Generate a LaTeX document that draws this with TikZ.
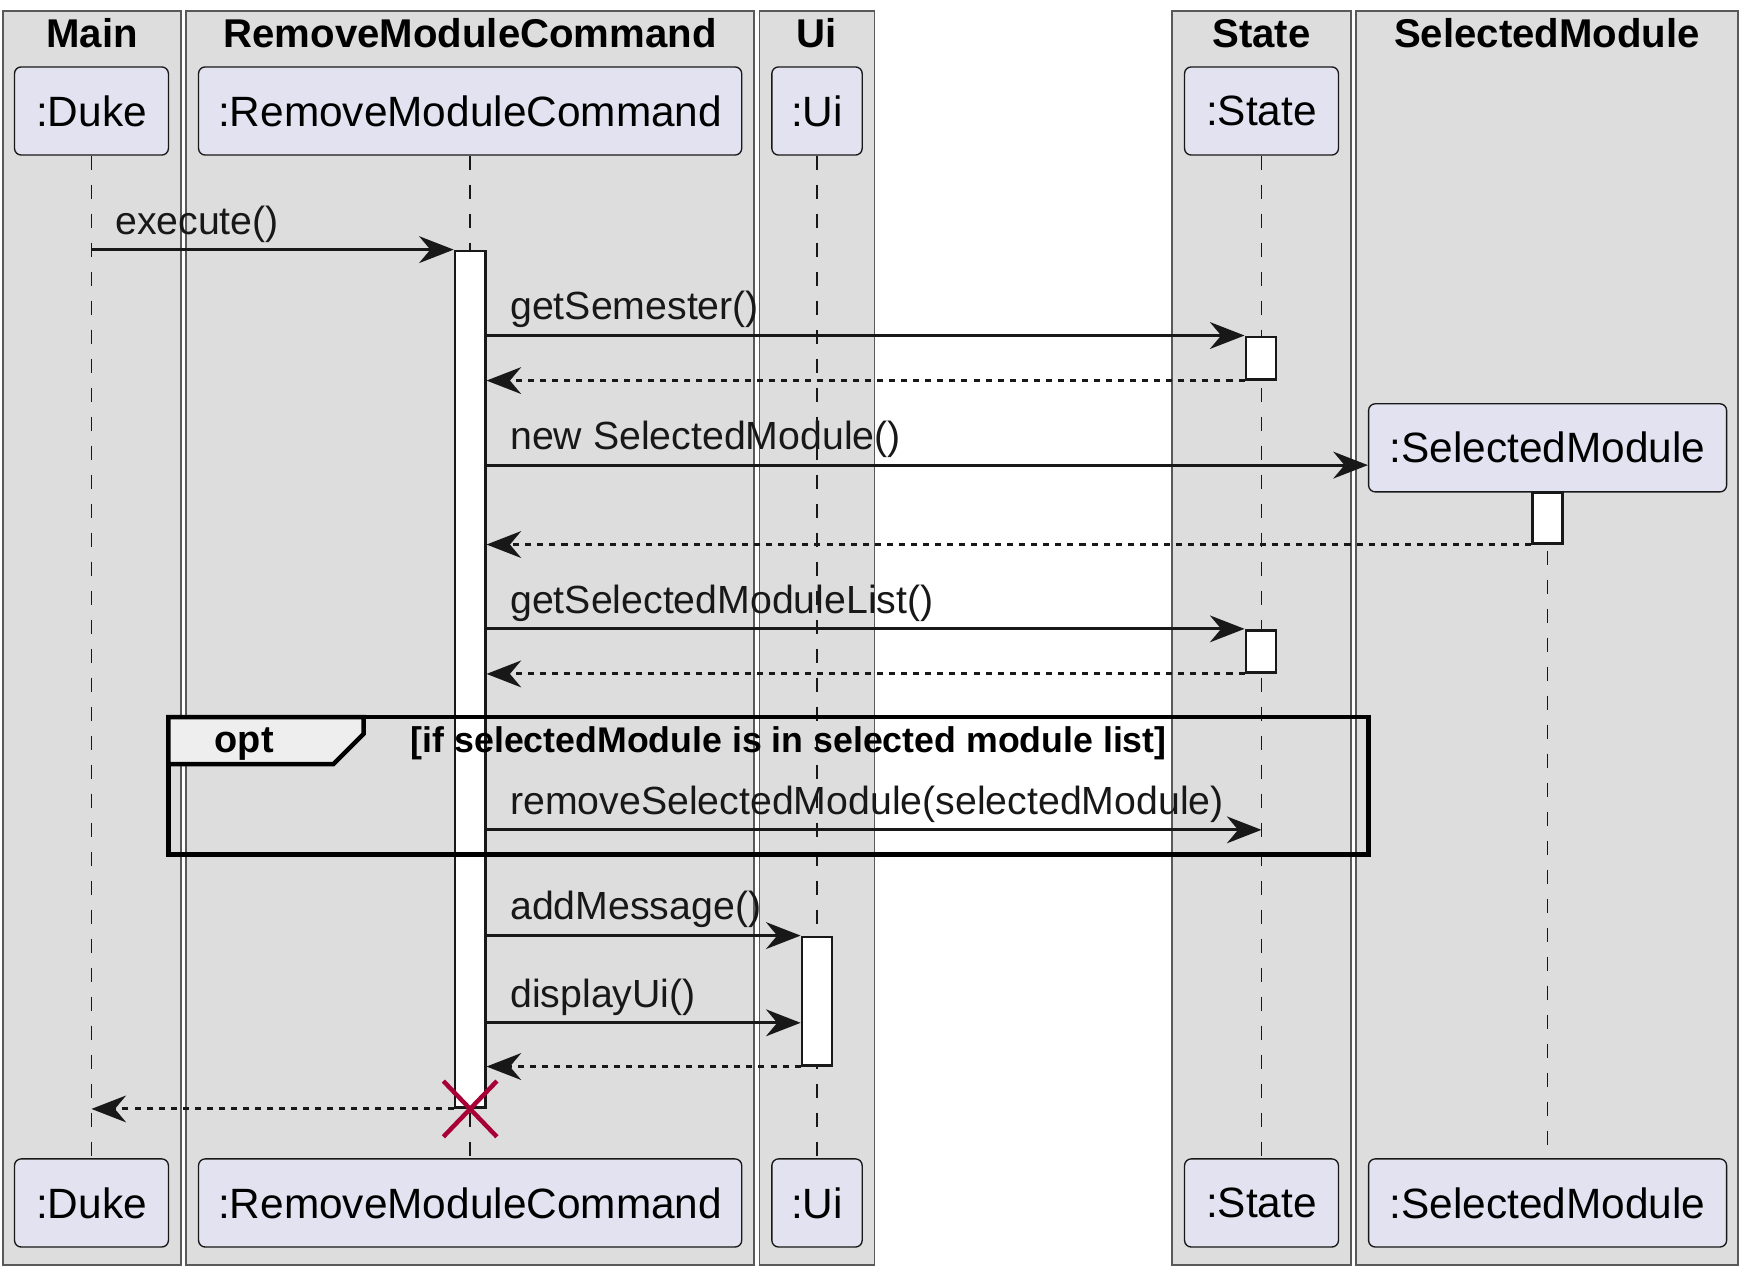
\documentclass[tikz,border=0pt]{standalone}
\usepackage{fontspec}
\setmainfont{Liberation Sans}
\usetikzlibrary{arrows.meta,calc}

\definecolor{lanebg}{HTML}{DDDDDD}
\definecolor{partbg}{HTML}{E2E2F0}
\definecolor{ink}{HTML}{181818}
\definecolor{tabbg}{HTML}{EEEEEE}
\definecolor{killred}{HTML}{A80036}

\begin{document}
\begin{tikzpicture}[x=0.5pt, y=-0.5pt,
    lane/.style={draw=black!65, line width=0.8pt, fill=lanebg},
    title/.style={font=\fontsize{18}{20}\selectfont\bfseries},
    part/.style={draw=ink, line width=0.6pt, fill=partbg, rounded corners=3pt,
        minimum height=39.5pt, inner sep=0pt, font=\fontsize{19}{21}\selectfont},
    life/.style={draw=ink, line width=0.6pt, dash pattern=on 6.5pt off 6.5pt},
    act/.style={draw=ink, line width=1.2pt, fill=white, minimum width=13.5pt, inner sep=0pt},
    msg/.style={draw=ink, line width=1.3pt, -{Stealth[length=15.5pt, width=12pt, inset=5pt]}},
    ret/.style={msg, dash pattern=on 2.7pt off 2.7pt},
    lbl/.style={pos=0, anchor=base west, xshift=10pt, yshift=7pt, inner sep=0pt,
        text=ink, font=\fontsize{17.6}{19}\selectfont},
    frame/.style={draw=black, line width=2pt},
    kill/.style={draw=killred, line width=2pt}
]
    \useasboundingbox (0,0) rectangle (1560,1137);

    % lanes with their titles
    \foreach \l/\r/\t in {3/162/Main, 167/676/RemoveModuleCommand, 681/784/Ui,
                          1051/1211/State, 1216/1558/SelectedModule}{
        \draw[lane] (\l,10) rectangle (\r,1134);
        \node[title] (t\t) at ({(\l+\r)/2},30) {\t};
    }

    % participants, top and bottom
    \node[part, minimum width=69pt] (dk) at (82,99.5) {:Duke};
    \node[part, minimum width=243.5pt] (rc) at (421.5,99.5) {:RemoveModuleCommand};
    \node[part, minimum width=40.5pt] (ui) at (732.5,99.5) {:Ui};
    \node[part, minimum width=69pt] (st) at (1131,99.5) {:State};
    \node[part, minimum width=160.5pt] (sm) at (1387.5,401.5) {:SelectedModule};

    \node[part, minimum width=69pt] (dk2) at (82,1078.5) {:Duke};
    \node[part, minimum width=243.5pt] (rc2) at (421.5,1078.5) {:RemoveModuleCommand};
    \node[part, minimum width=40.5pt] (ui2) at (732.5,1078.5) {:Ui};
    \node[part, minimum width=69pt] (st2) at (1131,1078.5) {:State};
    \node[part, minimum width=160.5pt] (sm2) at (1387.5,1078.5) {:SelectedModule};

    \foreach \a in {dk,rc,ui,st,sm}
        \draw[life] (\a.south) -- (\a2.north);

    % activations
    \node[act, minimum height=384pt] (rA) at (421.5,609) {};
    \node[act, minimum height=19pt] (s1) at (1130.5,321) {};
    \node[act, minimum height=22.5pt] (m1) at (1387.5,464.5) {};
    \node[act, minimum height=19pt] (s2) at (1130.5,584) {};
    \node[act, minimum height=57.5pt] (uA) at (732.5,897.5) {};

    \coordinate (y1) at (0,417);
    \coordinate (y2) at (0,744);
    \coordinate (y3) at (0,917);

    % messages
    \draw[msg] (dk.south |- rA.north) -- node[lbl]{execute()} (rA.north west);
    \draw[msg] (rA.east |- s1.north) -- node[lbl]{getSemester()} (s1.north west);
    \draw[ret] (s1.south west) -- (rA.east |- s1.south);
    \draw[msg] (rA.east |- y1) -- node[lbl]{new SelectedModule()} (sm.west |- y1);
    \draw[ret] (m1.south west) -- (rA.east |- m1.south);
    \draw[msg] (rA.east |- s2.north) -- node[lbl]{getSelectedModuleList()} (s2.north west);
    \draw[ret] (s2.south west) -- (rA.east |- s2.south);

    % opt fragment
    \draw[frame] (151,643) rectangle (1227,766);
    \draw[frame, fill=tabbg] (151,643) -- (326,643) -- (326,658) -- (299,685) -- (151,685) -- cycle;
    \node[anchor=base, inner sep=0pt, font=\fontsize{17}{19}\selectfont\bfseries] (opt) at (219,675) {opt};
    \node[anchor=base west, inner sep=0pt, font=\fontsize{16}{18}\selectfont\bfseries] (grd) at (368,675)
        {[if selectedModule is in selected module list]};
    \draw[msg] (rA.east |- y2) -- node[lbl]{removeSelectedModule(selectedModule)} (st.south |- y2);

    \draw[msg] (rA.east |- uA.north) -- node[lbl]{addMessage()} (uA.north west);
    \draw[msg] (rA.east |- y3) -- node[lbl]{displayUi()} (uA.west |- y3);
    \draw[ret] (uA.south west) -- (rA.east |- uA.south);
    \draw[ret] (rA.south west) -- (dk.south |- rA.south);

    % destroy
    \draw[kill] ($(rA.south)+(-24,-25)$) -- ($(rA.south)+(24,25)$);
    \draw[kill] ($(rA.south)+(-24,25)$) -- ($(rA.south)+(24,-25)$);

\end{tikzpicture}
\end{document}
